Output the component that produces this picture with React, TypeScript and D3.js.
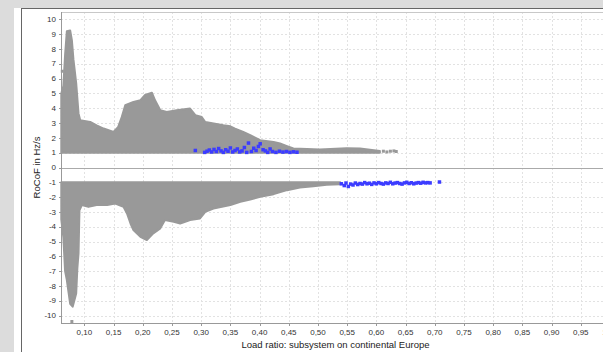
import React from 'react';
import * as d3 from 'd3';

// upper envelope of the positive RoCoF cloud (gray points, from +1 upward)
const posX = [0.0605, 0.064, 0.067, 0.070, 0.0757, 0.0786, 0.0813, 0.086, 0.090, 0.0928, 0.110, 0.121, 0.133, 0.150, 0.158, 0.164, 0.170, 0.184, 0.196, 0.204, 0.2156, 0.221, 0.230, 0.241, 0.258, 0.281, 0.290, 0.301, 0.307, 0.338, 0.350, 0.358, 0.372, 0.384, 0.401, 0.424, 0.435, 0.447, 0.458, 0.481, 0.503, 0.549, 0.572, 0.606];
const posHi = [5.0, 5.5, 7.6, 9.2, 9.25, 8.6, 7.3, 5.7, 3.65, 3.2, 3.08, 2.85, 2.63, 2.4, 2.74, 3.4, 4.2, 4.42, 4.54, 4.9, 5.05, 4.54, 3.86, 3.75, 3.86, 3.98, 3.53, 3.41, 3.07, 2.85, 2.78, 2.63, 2.4, 2.18, 1.84, 1.73, 1.62, 1.44, 1.28, 1.25, 1.21, 1.3, 1.28, 1.12];

// lower envelope of the negative RoCoF cloud (gray points, from -1 downward)
const negX = [0.0605, 0.064, 0.067, 0.070, 0.0757, 0.080, 0.086, 0.088, 0.090, 0.0916, 0.0957, 0.107, 0.121, 0.139, 0.153, 0.167, 0.173, 0.179, 0.184, 0.196, 0.207, 0.218, 0.230, 0.238, 0.253, 0.264, 0.281, 0.298, 0.307, 0.321, 0.350, 0.367, 0.384, 0.401, 0.424, 0.447, 0.469, 0.492, 0.515, 0.538];
const negLo = [-3.5, -4.7, -7.0, -7.6, -9.2, -9.4, -8.5, -6.8, -5.8, -2.9, -2.54, -2.66, -2.54, -2.54, -2.43, -2.66, -3.1, -3.78, -4.23, -4.68, -4.9, -4.45, -4.11, -3.55, -3.67, -3.78, -3.55, -3.44, -3.0, -2.77, -2.54, -2.32, -2.16, -1.98, -1.8, -1.53, -1.35, -1.26, -1.17, -1.13];

// single gray points outside the envelopes
const grayPtX = [0.0622, 0.0786, 0.612, 0.618, 0.624, 0.630, 0.634];
const grayPtY = [6.5, -10.4, 1.1, 1.05, 1.1, 1.12, 1.08];

// blue points, positive side
const bluePosX = [0.290, 0.306, 0.310, 0.314, 0.318, 0.322, 0.326, 0.330, 0.334, 0.338, 0.342, 0.346, 0.350, 0.354, 0.358, 0.362, 0.366, 0.370, 0.374, 0.378, 0.381, 0.386, 0.390, 0.394, 0.398, 0.401, 0.406, 0.410, 0.414, 0.418, 0.422, 0.428, 0.434, 0.440, 0.446, 0.452, 0.458, 0.464];
const bluePosY = [1.15, 1.02, 1.1, 1.18, 1.05, 1.22, 1.08, 1.28, 1.12, 1.02, 1.2, 1.1, 1.32, 1.05, 1.15, 1.25, 1.05, 1.12, 1.35, 1.02, 1.65, 1.08, 1.3, 1.15, 1.42, 1.6, 1.2, 1.12, 1.02, 1.25, 1.08, 1.02, 1.1, 1.04, 1.08, 1.02, 1.06, 1.03];

// blue points, negative side
const blueNegX = [0.540, 0.545, 0.548, 0.552, 0.556, 0.560, 0.564, 0.568, 0.572, 0.576, 0.580, 0.584, 0.588, 0.592, 0.596, 0.600, 0.604, 0.608, 0.612, 0.616, 0.620, 0.624, 0.628, 0.632, 0.636, 0.640, 0.644, 0.648, 0.652, 0.656, 0.660, 0.664, 0.668, 0.672, 0.676, 0.680, 0.684, 0.688, 0.692, 0.708];
const blueNegY = [-1.1, -1.22, -1.05, -1.28, -1.12, -1.18, -1.05, -1.15, -1.08, -1.12, -1.02, -1.1, -1.06, -1.14, -1.04, -1.1, -1.02, -1.08, -1.12, -1.04, -1.08, -1.0, -1.1, -1.05, -1.02, -1.08, -1.12, -1.04, -1.0, -1.08, -1.03, -1.1, -1.05, -1.02, -1.06, -1.0, -1.04, -1.02, -1.04, -0.98];

const xTicks = [0.10, 0.15, 0.20, 0.25, 0.30, 0.35, 0.40, 0.45, 0.50, 0.55, 0.60, 0.65, 0.70, 0.75, 0.80, 0.85, 0.90, 0.95, 1.00];
const yTicks = [-10, -9, -8, -7, -6, -5, -4, -3, -2, -1, 0, 1, 2, 3, 4, 5, 6, 7, 8, 9, 10];

const W = 603;
const H = 352;
const font = '"Liberation Sans", Arial, sans-serif';
const GRAY = '#999999';
const BLUE = '#3c3cff';

export default function App() {
  const x = d3.scaleLinear().domain([0.06, 1.0]).range([61, 610]);
  const y = d3.scaleLinear().domain([-10.5, 10.5]).range([323, 12]);
  const [x0, x1] = x.range();
  const [yb, yt] = y.range();

  const pos = posX.map((v, i) => [v, posHi[i]] as [number, number]);
  const neg = negX.map((v, i) => [v, negLo[i]] as [number, number]);

  const upperArea = d3.area<[number, number]>()
    .x((d) => x(d[0]))
    .y0(y(1))
    .y1((d) => y(d[1]));
  const lowerArea = d3.area<[number, number]>()
    .x((d) => x(d[0]))
    .y0(y(-1))
    .y1((d) => y(d[1]));

  const fmtX = (v: number) => d3.format('.2f')(v).replace('.', ',');
  const s = 3;
  const sb = 3.5;

  return (
    <svg width={W} height={H} style={{ position: 'absolute', left: 0, top: 0 }}>
      {/* frame */}
      <rect width={W} height={H} fill="#dcdcdc" />
      <rect x={14} y={8} width={W - 14} height={H - 8} fill="#ffffff" />
      <line x1={21} x2={W} y1={8.5} y2={8.5} stroke="#666" />
      <line x1={21.5} x2={21.5} y1={8} y2={H} stroke="#666" />

      {/* grid */}
      {yTicks.filter((t) => t !== 0).map((t) => (
        <line key={'gy' + t} x1={x0} x2={x1} y1={Math.round(y(t)) + 0.5} y2={Math.round(y(t)) + 0.5}
          stroke="#e2e2e2" strokeDasharray="2,2" />
      ))}
      {xTicks.map((t) => (
        <line key={'gx' + t} x1={Math.round(x(t)) + 0.5} x2={Math.round(x(t)) + 0.5} y1={yt} y2={yb}
          stroke="#e2e2e2" strokeDasharray="2,2" />
      ))}
      <line x1={x0} x2={x1} y1={yt + 0.5} y2={yt + 0.5} stroke="#c8c8c8" />
      <line x1={x0} x2={x1} y1={Math.round(y(0)) + 0.5} y2={Math.round(y(0)) + 0.5} stroke="#aaaaaa" />

      {/* gray cloud */}
      <path d={upperArea(pos) || ''} fill={GRAY} stroke={GRAY} strokeWidth={2} strokeLinejoin="round" />
      <path d={lowerArea(neg) || ''} fill={GRAY} stroke={GRAY} strokeWidth={2} strokeLinejoin="round" />
      {grayPtX.map((v, i) => (
        <rect key={'gp' + i} x={x(v) - s / 2} y={y(grayPtY[i]) - s / 2} width={s} height={s} fill={GRAY} />
      ))}

      {/* blue points */}
      {bluePosX.map((v, i) => (
        <rect key={'bp' + i} x={x(v) - sb / 2} y={y(bluePosY[i]) - sb / 2} width={sb} height={sb} fill={BLUE} />
      ))}
      {blueNegX.map((v, i) => (
        <rect key={'bn' + i} x={x(v) - sb / 2} y={y(blueNegY[i]) - sb / 2} width={sb} height={sb} fill={BLUE} />
      ))}

      {/* axes */}
      <line x1={x0 + 0.5} x2={x0 + 0.5} y1={yt} y2={yb} stroke="#999" />
      <line x1={x0} x2={x1} y1={yb + 0.5} y2={yb + 0.5} stroke="#999" />
      {yTicks.map((t) => (
        <g key={'ty' + t}>
          <line x1={x0 - 2} x2={x0} y1={Math.round(y(t)) + 0.5} y2={Math.round(y(t)) + 0.5} stroke="#999" />
          <text x={56} y={y(t)} dy="0.33em" textAnchor="end" fontFamily={font} fontSize={8} fill="#333">
            {String(t)}
          </text>
        </g>
      ))}
      {xTicks.map((t) => (
        <g key={'tx' + t}>
          <line x1={Math.round(x(t)) + 0.5} x2={Math.round(x(t)) + 0.5} y1={yb} y2={yb + 3} stroke="#999" />
          <text x={x(t)} y={335} textAnchor="middle" fontFamily={font} fontSize={8} fill="#333">
            {fmtX(t)}
          </text>
        </g>
      ))}

      {/* titles */}
      <text x={(x0 + x1) / 2} y={348} textAnchor="middle" fontFamily={font} fontSize={9.5} fill="#222">
        Load ratio: subsystem on continental Europe
      </text>
      <text transform={`translate(40,${y(0)}) rotate(-90)`} textAnchor="middle" fontFamily={font} fontSize={9.5} fill="#222">
        RoCoF in Hz/s
      </text>
    </svg>
  );
}
